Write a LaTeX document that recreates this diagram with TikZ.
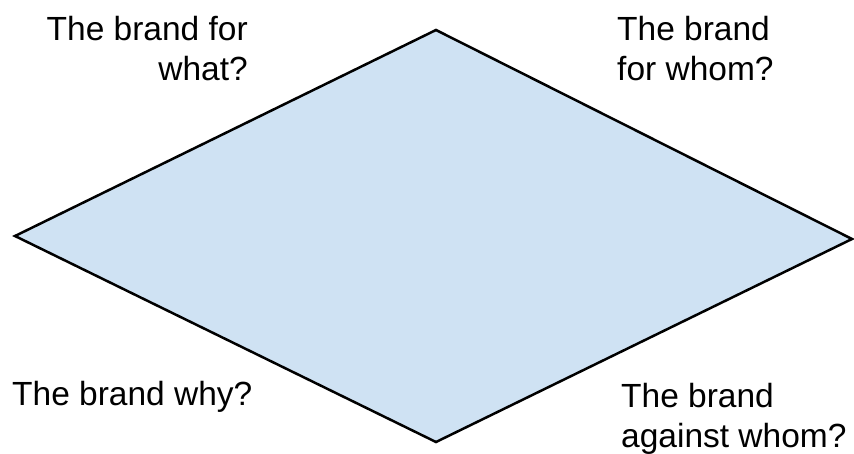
\documentclass[tikz,border=0pt]{standalone}
\usepackage{fontspec}
\setmainfont{Liberation Sans}
\definecolor{paleblue}{HTML}{CFE2F3}
\begin{document}
\begin{tikzpicture}[
    x=1pt, y=-1pt,
    question/.style={
        font=\fontsize{33.5}{40}\selectfont, inner sep=0pt
    },
    rhomb/.style={
        draw=black, line width=2.5pt, fill=paleblue, line join=miter
    }
]
\useasboundingbox (0,0) rectangle (854,453);
% corners of the diamond
\coordinate (top) at (436,30);
\coordinate (right) at (852,239);
\coordinate (bottom) at (436,442);
\coordinate (left) at (15,236);
\draw[rhomb] (top) -- (right) -- (bottom) -- (left) -- cycle;
% the four questions
\node[question, align=right, anchor=base east] (what) at (248,80)
    {The brand for\\what?};
\node[question, align=left, anchor=base west] (whom) at (617,80)
    {The brand\\for whom?};
\node[question, anchor=base west] (why) at (12,405)
    {The brand why?};
\node[question, align=left, anchor=base west] (against) at (621,447)
    {The brand\\against whom?};
\end{tikzpicture}
\end{document}
